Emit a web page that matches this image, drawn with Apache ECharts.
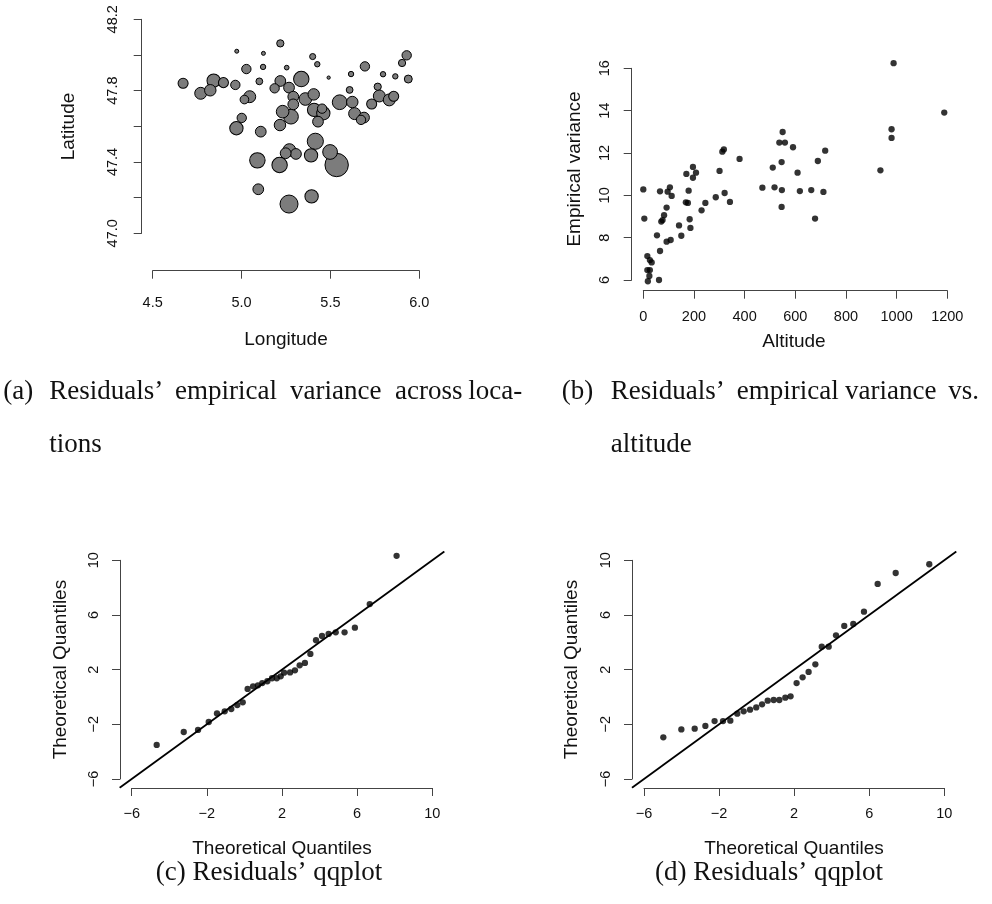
<!DOCTYPE html>
<html><head><meta charset="utf-8">
<script src="https://cdn.jsdelivr.net/npm/echarts@6/dist/echarts.min.js"></script>
<style>html,body{margin:0;padding:0;background:#fff}#c{width:992px;height:904px}</style>
</head><body><div id="c"></div>
<script>
// ---------- Panel (a): residuals' empirical variance across locations ----------
const lonTicks = [4.5, 5.0, 5.5, 6.0];
const latTicks = [47.0, 47.2, 47.4, 47.6, 47.8, 48.0, 48.2];
const latLabelled = [47.0, 47.4, 47.8, 48.2];
const bubbleLon = [4.671,4.770,4.824,4.843,4.898,4.965,4.973,5.027,5.046,5.016,5.001,4.971,5.108,5.100,5.123,5.121,5.218,5.186,5.218,5.254,5.267,5.336,5.291,5.291,5.231,5.278,5.216,5.359,5.406,5.400,5.426,5.408,5.460,5.453,5.430,5.490,5.415,5.269,5.306,5.391,5.498,5.535,5.214,5.089,5.094,5.267,5.394,5.552,5.623,5.636,5.672,5.689,5.608,5.616,5.694,5.732,5.766,5.775,5.796,5.831,5.856,5.865,5.903,5.929,5.938,5.248];
const bubbleLat = [47.841,47.785,47.802,47.856,47.845,47.832,48.021,47.921,47.766,47.750,47.647,47.589,47.570,47.852,48.009,47.933,48.065,47.813,47.854,47.929,47.817,47.865,47.766,47.723,47.682,47.654,47.607,47.753,47.779,47.991,47.948,47.692,47.673,47.699,47.626,47.873,47.516,47.467,47.445,47.437,47.456,47.383,47.383,47.409,47.247,47.164,47.207,47.735,47.736,47.671,47.636,47.649,47.804,47.893,47.936,47.725,47.822,47.770,47.892,47.748,47.768,47.880,47.955,47.998,47.865,47.449];
// relative magnitude of the residual variance at each location (1 = largest circle)
const bubbleMag = [0.43,0.51,0.49,0.57,0.43,0.40,0.17,0.40,0.51,0.37,0.40,0.57,0.46,0.29,0.17,0.23,0.31,0.40,0.46,0.20,0.46,0.66,0.46,0.46,0.54,0.63,0.49,0.54,0.49,0.26,0.23,0.57,0.57,0.40,0.46,0.14,0.69,0.54,0.46,0.57,0.63,1.00,0.66,0.66,0.46,0.77,0.57,0.63,0.49,0.51,0.40,0.46,0.29,0.23,0.40,0.43,0.31,0.51,0.23,0.51,0.43,0.23,0.31,0.40,0.34,0.46];

// ---------- Panel (b): empirical variance vs altitude ----------
const altTicks = [0, 200, 400, 600, 800, 1000, 1200];
const varTicks = [6, 8, 10, 12, 14, 16];
const altitude = [0,4,16,26,33,16,26,24,18,62,66,54,66,71,76,82,92,92,108,96,105,112,141,150,170,168,176,179,183,186,196,196,208,230,245,286,301,312,318,321,342,380,470,511,518,537,550,546,547,546,559,591,609,618,663,678,689,711,718,936,980,980,988,1188];
const empVar = [10.28,8.90,7.13,6.94,6.83,6.47,6.47,6.19,5.94,6.00,7.37,8.11,10.19,8.76,8.83,9.06,9.42,7.81,7.89,10.17,10.38,9.97,8.58,8.09,11.01,9.67,9.64,10.22,8.87,8.46,11.34,10.83,11.07,9.29,9.64,9.91,11.15,12.06,12.17,10.11,9.69,11.72,10.36,11.31,10.38,12.49,12.99,11.57,10.25,9.45,12.49,12.27,11.07,10.20,10.25,8.90,11.62,10.16,12.11,11.18,13.12,12.71,16.24,13.91];

// ---------- Panels (c) and (d): qqplots ----------
const qqTicks = [-6, -2, 2, 6, 10];
const qqCx = [-4.67,-3.23,-2.47,-1.90,-1.46,-1.05,-0.70,-0.38,-0.09,0.17,0.46,0.72,0.95,1.22,1.47,1.72,1.93,2.11,2.43,2.69,2.94,3.22,3.51,3.81,4.13,4.48,4.86,5.33,5.88,6.67,8.10];
const qqCy = [-3.51,-2.56,-2.41,-1.83,-1.20,-1.05,-0.88,-0.59,-0.39,0.59,0.78,0.85,1.02,1.15,1.37,1.37,1.51,1.78,1.80,1.95,2.32,2.49,3.15,4.15,4.46,4.61,4.73,4.73,5.07,6.80,10.33];
const qqDx = [-6.76,-4.97,-4.01,-3.30,-2.73,-2.24,-1.79,-1.40,-1.03,-0.69,-0.35,-0.02,0.29,0.59,0.91,1.21,1.53,1.81,2.13,2.45,2.77,3.13,3.47,3.84,4.23,4.67,5.15,5.72,6.45,7.41,9.20];
const qqDy = [-4.78,-2.95,-2.37,-2.32,-2.12,-1.76,-1.76,-1.73,-1.22,-1.05,-0.93,-0.76,-0.54,-0.27,-0.22,-0.22,-0.05,0.05,1.02,1.44,1.83,2.39,3.68,3.68,4.51,5.20,5.34,6.24,8.27,9.07,9.71];
const refLine = [-6.64, 10.64]; // y = x reference line over the plotted range

// ---------- Text ----------
const captions = [
  {words: [['(a)',3.3],['Residuals\u2019',49.3],['empirical',175],['variance',290],['across',395],['loca-',468.3]], y: 392},
  {words: [['tions',49.3]], y: 444.5},
  {words: [['(b)',561.7],['Residuals\u2019',610.7],['empirical',736.7],['variance',845],['vs.',948.3]], y: 392},
  {words: [['altitude',610.7]], y: 444.5}
];
const centeredCaptions = [['(c) Residuals\u2019 qqplot', 269, 873], ['(d) Residuals\u2019 qqplot', 769, 873]];

// ---------- Layout (pixels) ----------
const panels = [
  {xt: lonTicks, yt: latTicks, xpx: [152.7, 419.3], ypx: [233.3, 19.3], xus: [4.44, 6.06], yus: [46.952, 48.248],
   axX: 141.7, axY: 270.7, mX: 25, mY: 21, xLab: lonTicks, yLab: latLabelled, fmt: v => v.toFixed(1),
   xTitle: ['Longitude', 286, 340], yTitle: ['Latitude', 68.3, 126.5]},
  {xt: altTicks, yt: varTicks, xpx: [643.3, 947.3], ypx: [280, 68.3], xus: [-47.5, 1235.5], yus: [5.53, 16.65],
   axX: 631.7, axY: 290.7, mX: 19, mY: 19.5, xLab: altTicks, yLab: varTicks, fmt: v => String(v),
   xTitle: ['Altitude', 794, 341.7], yTitle: ['Empirical variance', 575, 169]},
  {xt: qqTicks, yt: qqTicks, xpx: [131.7, 432.3], ypx: [779, 560.3], xus: [-6.64, 10.64], yus: [-6.64, 10.64],
   axX: 120, axY: 788, mX: 18, mY: 19, xLab: qqTicks, yLab: qqTicks, fmt: v => (v < 0 ? '\u2212' + Math.abs(v) : String(v)),
   xTitle: ['Theoretical Quantiles', 282, 848.3], yTitle: ['Theoretical Quantiles', 61, 669.6]},
  {xt: qqTicks, yt: qqTicks, xpx: [644, 944.3], ypx: [779, 560.3], xus: [-6.64, 10.64], yus: [-6.64, 10.64],
   axX: 632, axY: 788, mX: 18, mY: 19, xLab: qqTicks, yLab: qqTicks, fmt: v => (v < 0 ? '\u2212' + Math.abs(v) : String(v)),
   xTitle: ['Theoretical Quantiles', 794, 848.3], yTitle: ['Theoretical Quantiles', 572, 669.6]}
];

const AX_COLOR = '#444';
const SANS = 'Liberation Sans, Arial, Helvetica, sans-serif';
const SERIF = 'Liberation Serif, Times New Roman, serif';

function lin(t, p, v) { return p[0] + (v - t[0]) / (t[t.length - 1] - t[0]) * (p[1] - p[0]); }

const grid = [], xAxis = [], yAxis = [], graphic = [];
panels.forEach((P, k) => {
  // plotting region (R "usr" region) – holds the data
  const l = lin(P.xt, P.xpx, P.xus[0]), r = lin(P.xt, P.xpx, P.xus[1]);
  const t = lin(P.yt, P.ypx, P.yus[1]), b = lin(P.yt, P.ypx, P.yus[0]);
  grid.push({left: l, top: t, width: r - l, height: b - t, show: false});
  xAxis.push({gridIndex: 2 * k, type: 'value', min: P.xus[0], max: P.xus[1], show: false});
  yAxis.push({gridIndex: 2 * k, type: 'value', min: P.yus[0], max: P.yus[1], show: false});
  // axis region spanning the ticks (R style axes)
  const gl = P.xpx[0], gw = P.xpx[1] - P.xpx[0], gt = P.ypx[1], gh = P.ypx[0] - P.ypx[1];
  grid.push({left: gl, top: gt, width: gw, height: gh, show: false});
  const common = {
    type: 'value', splitLine: {show: false},
    axisLine: {show: true, onZero: false, lineStyle: {color: AX_COLOR, width: 1}},
    axisTick: {show: true, length: 8, inside: false, lineStyle: {color: AX_COLOR, width: 1}}
  };
  xAxis.push(Object.assign({}, common, {
    gridIndex: 2 * k + 1, position: 'bottom', min: P.xt[0], max: P.xt[P.xt.length - 1],
    offset: P.axY - P.ypx[0],
    axisTick: Object.assign({}, common.axisTick, {customValues: P.xt}),
    axisLabel: {customValues: P.xLab, formatter: P.fmt, color: '#111', fontSize: 14.5, fontFamily: SANS, margin: P.mX}
  }));
  yAxis.push(Object.assign({}, common, {
    gridIndex: 2 * k + 1, position: 'left', min: P.yt[0], max: P.yt[P.yt.length - 1],
    offset: P.xpx[0] - P.axX,
    axisTick: Object.assign({}, common.axisTick, {customValues: P.yt}),
    axisLabel: {customValues: P.yLab, formatter: P.fmt, rotate: 90, color: '#111', fontSize: 14.5, fontFamily: SANS, margin: P.mY}
  }));
  graphic.push({type: 'text', x: P.xTitle[1], y: P.xTitle[2],
    style: {text: P.xTitle[0], fill: '#111', font: '19px ' + SANS, textAlign: 'center', textVerticalAlign: 'middle'}});
  graphic.push({type: 'text', x: P.yTitle[1], y: P.yTitle[2], rotation: Math.PI / 2,
    style: {text: P.yTitle[0], fill: '#111', font: '19px ' + SANS, textAlign: 'center', textVerticalAlign: 'middle'}});
});

captions.forEach(c => c.words.forEach(w => graphic.push({type: 'text', x: w[1], y: c.y,
  style: {text: w[0], fill: '#111', font: '27px ' + SERIF, textAlign: 'left', textVerticalAlign: 'middle'}})));
centeredCaptions.forEach(c => graphic.push({type: 'text', x: c[1], y: c[2],
  style: {text: c[0], fill: '#111', font: '27px ' + SERIF, textAlign: 'center', textVerticalAlign: 'middle'}}));

// bubble data, larger circles drawn first
const MAXR = 11.7;
const bubbles = bubbleLon.map((x, i) => [x, bubbleLat[i], bubbleMag[i]]).sort((p, q) => q[2] - p[2]);
const dots = (xs, ys) => xs.map((x, i) => [x, ys[i]]);
const dotStyle = {color: '#000'};
const DOT = 6.3;

const series = [
  {type: 'scatter', xAxisIndex: 0, yAxisIndex: 0, data: bubbles, symbol: 'circle',
   symbolSize: d => 2 * MAXR * d[2], itemStyle: {color: '#7c7c7c', borderColor: '#000', borderWidth: 1, opacity: 1}},
  {type: 'scatter', xAxisIndex: 2, yAxisIndex: 2, data: dots(altitude, empVar), symbol: 'circle', symbolSize: DOT, itemStyle: dotStyle},
  {type: 'line', xAxisIndex: 4, yAxisIndex: 4, data: [[refLine[0], refLine[0]], [refLine[1], refLine[1]]], symbol: 'none',
   lineStyle: {color: '#000', width: 1.8}, clip: true},
  {type: 'scatter', xAxisIndex: 4, yAxisIndex: 4, data: dots(qqCx, qqCy), symbol: 'circle', symbolSize: DOT, itemStyle: dotStyle},
  {type: 'line', xAxisIndex: 6, yAxisIndex: 6, data: [[refLine[0], refLine[0]], [refLine[1], refLine[1]]], symbol: 'none',
   lineStyle: {color: '#000', width: 1.8}, clip: true},
  {type: 'scatter', xAxisIndex: 6, yAxisIndex: 6, data: dots(qqDx, qqDy), symbol: 'circle', symbolSize: DOT, itemStyle: dotStyle}
];

const chart = echarts.init(document.getElementById('c'), null, {renderer: 'canvas'});
chart.setOption({animation: false, backgroundColor: '#fff', grid, xAxis, yAxis, series, graphic});
</script>
</body></html>
